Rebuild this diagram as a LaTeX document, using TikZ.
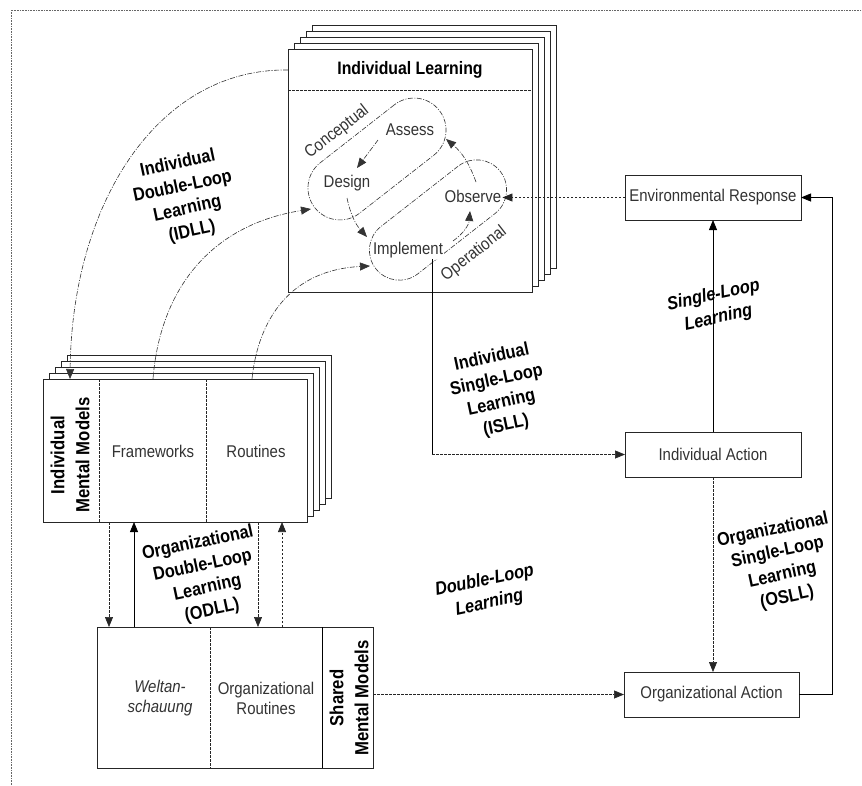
\documentclass[tikz,border=0pt]{standalone}
\usepackage{fontspec}
\setmainfont{Liberation Sans}[FakeStretch=0.88]
\usetikzlibrary{arrows.meta,calc}
\newcommand\regfont{\fontsize{17}{20}\selectfont}
\newcommand\lblfont{\fontsize{18.5}{23}\selectfont\bfseries}
\newcommand\vtfont{\fontsize{19}{25}\selectfont\bfseries}
\begin{document}
\begin{tikzpicture}[x=1pt,y=-1pt,
  boxln/.style={draw=black!85, line width=0.7pt},
  box/.style={boxln, fill=white, inner sep=0pt, outer sep=0pt},
  solidln/.style={draw=black, line width=0.8pt},
  dashln/.style={draw=black!85, line width=0.7pt, dash pattern=on 2.5pt off 1.5pt},
  arcln/.style={draw=black!80, line width=0.6pt, dash pattern=on 5pt off 1.5pt on 1pt off 1.5pt},
  arr/.style={-{Triangle[length=10pt,width=8pt]}},
  txt/.style={font=\regfont, text=black!80, inner sep=1pt},
  lbl/.style={font=\lblfont, align=center, rotate=12, inner sep=0pt},
]
\useasboundingbox (0,0) rectangle (862,785);
% outer frame
\draw[black!60, line width=0.6pt, densely dotted] (11,785) -- (11,10) -- (862,10);

% ---------- Individual Learning stack
\foreach \k in {4,3,2,1} {\draw[boxln, fill=white] ({288+6.2*\k},{49-6*\k}) rectangle ++(244,243);}
\node[box, minimum width=244pt, minimum height=243pt, anchor=north west] (IL) at (288,49) {};
\node[font=\fontsize{18}{20}\selectfont\bfseries] (ILt) at (410,70) {Individual Learning};
\draw[dashln] (IL.west |- 0,90) -- (IL.east |- 0,90);

% pills
\node[arcln, rounded corners=32pt, minimum width=158pt, minimum height=64pt, rotate=38, inner sep=0pt] (cpill) at (377,159) {};
\node[arcln, rounded corners=30pt, minimum width=158pt, minimum height=60pt, rotate=38, inner sep=0pt] (opill) at (438,220) {};

\node[txt] (assess) at (410,130) {Assess};
\node[txt] (design) at (347,183) {Design};
\node[txt, fill=white] (obs) at (473,196) {Observe};
\node[txt, fill=white] (imp) at (408,250) {Implement};
\node[txt, rotate=38] (concept) at (337,132) {Conceptual};
\node[txt, rotate=38] (operat) at (474,254) {Operational};

% inner cycle arrows
\draw[arcln, arr] (476,182) to[bend right=15] (446,139);
\draw[arcln, arr] (378,140) -- (357,168);
\draw[arcln, arr] (347,198) to[bend right=15] (367,237);
\draw[arcln, arr] (453,241) to[bend right=25] (470,211);

% ---------- Individual Mental Models stack
\foreach \k in {4,3,2,1} {\draw[boxln, fill=white] ({43+6*\k},{379-6*\k}) rectangle ++(264,143);}
\node[box, minimum width=264pt, minimum height=143pt, anchor=north west] (IMM) at (43,379) {};
\draw[dashln] (99,0 |- IMM.north) -- (99,0 |- IMM.south);
\draw[dashln] (206,0 |- IMM.north) -- (206,0 |- IMM.south);
\node[font=\vtfont, rotate=90, align=center, inner sep=0pt] (IMMt) at (70,455) {Individual\\Mental Models};
\node[txt] (frame) at (153,451) {Frameworks};
\node[txt] (rout) at (256,451) {Routines};

% ---------- Shared Mental Models
\node[box, minimum width=276pt, minimum height=141pt, anchor=north west] (SMM) at (97,627) {};
\draw[dashln] (210,0 |- SMM.north) -- (210,0 |- SMM.south);
\draw[solidln] (322,0 |- SMM.north) -- (322,0 |- SMM.south);
\node[txt, align=center, font=\regfont\itshape] (welt) at (160,698) {Weltan-\\schauung};
\node[txt, align=center] (orout) at (266,698) {Organizational\\Routines};
\node[font=\vtfont, rotate=90, align=center, inner sep=0pt] (SMMt) at (349,698) {Shared\\Mental Models};

% ---------- right column boxes
\node[box, txt, minimum width=176pt, minimum height=45pt] (ER) at (713,197.5) {Environmental Response};
\node[box, txt, minimum width=176pt, minimum height=45pt] (IA) at (713,454.5) {Individual Action};
\node[box, txt, minimum width=175pt, minimum height=45pt] (OA) at (711.5,694.5) {Organizational Action};

% ---------- connectors
\draw[dashln, arr] (ER.west) -- (obs.east |- ER.west);
\draw[solidln, arr] (OA.east) -- ++(33,0) |- (ER.east);
\draw[solidln, arr] (IA.north) -- (ER.south);
\draw[dashln, arr] (IA.south) -- (IA.south |- OA.north);
\coordinate (isllc) at (432,454.5);
\draw[solidln] (432,0 |- imp.south) -- (isllc);
\draw[dashln, arr] (isllc) -- (IA.west);
\draw[dashln, arr] (SMM.east |- OA.west) -- (OA.west);

\draw[dashln, arr] (109,0 |- IMM.south) -- (109,0 |- SMM.north);
\draw[solidln, arr] (134,0 |- SMM.north) -- (134,0 |- IMM.south);
\draw[dashln, arr] (258,0 |- IMM.south) -- (258,0 |- SMM.north);
\draw[dashln, arr] (282,0 |- SMM.north) -- (282,0 |- IMM.south);

% IDLL arcs
\coordinate (a1s) at (288,70);
\draw[arcln, arr] (a1s) .. controls (160,68) and (72,200) .. (70,0 |- IMM.north);
\coordinate (a2e) at (311,209);
\draw[arcln, arr] (153,0 |- IMM.north) .. controls (160,290) and (210,225) .. (a2e);
\coordinate (a3e) at (370,266);
\draw[arcln, arr] (252,0 |- IMM.north) .. controls (258,320) and (290,270) .. (a3e);

% ---------- labels
\node[lbl] (idll) at (185,198) {Individual\\Double-Loop\\Learning\\(IDLL)};
\node[lbl] (isll) at (499,392) {Individual\\Single-Loop\\Learning\\(ISLL)};
\node[lbl, font=\lblfont\itshape] (sll) at (716,307) {Single-Loop\\Learning};
\node[lbl] (osll) at (780,564) {Organizational\\Single-Loop\\Learning\\(OSLL)};
\node[lbl, font=\lblfont\itshape] (dll) at (487,592) {Double-Loop\\Learning};
\node[lbl] (odll) at (205,577) {Organizational\\Double-Loop\\Learning\\(ODLL)};
\end{tikzpicture}
\end{document}
